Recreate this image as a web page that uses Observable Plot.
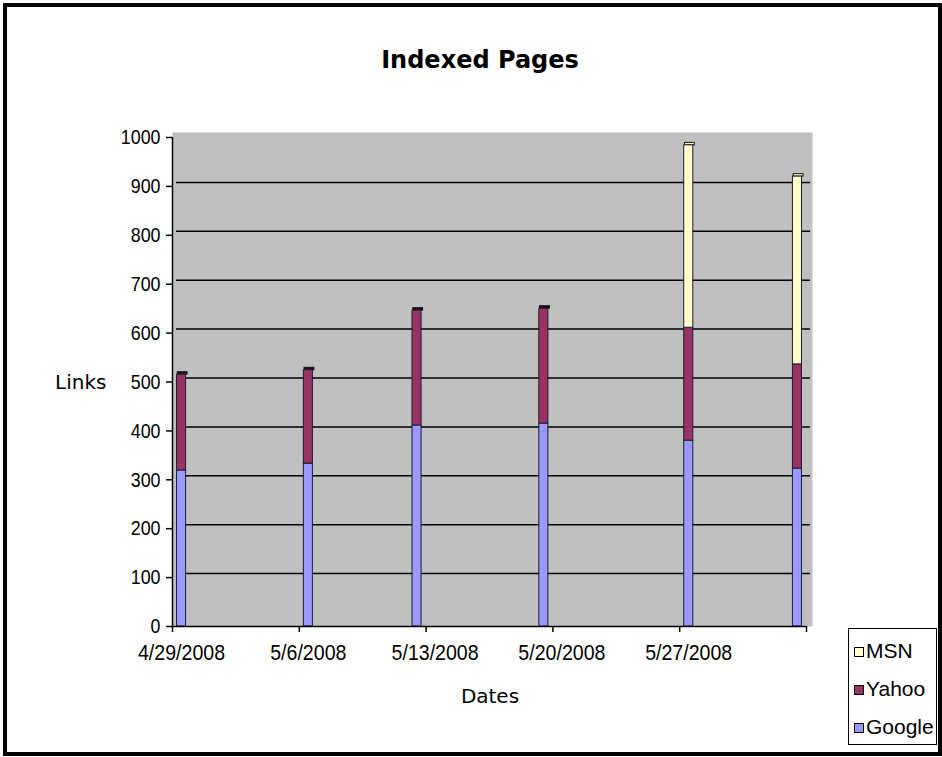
<!DOCTYPE html>
<html>
<head>
<meta charset="utf-8">
<script src="https://cdn.jsdelivr.net/npm/d3@7"></script>
<script src="https://cdn.jsdelivr.net/npm/@observablehq/plot@0.6"></script>
<style>
  body { margin: 0; background: #fff; }
  #wrap { position: relative; width: 942px; height: 757px; overflow: hidden; background: #fff; }
  #chart { position: absolute; left: 0; top: 0; }
  #border { position: absolute; left: 3px; top: 3px; width: 931px; height: 745px; border: 4px solid #000; pointer-events: none; }
  .lbl { position: absolute; white-space: nowrap; color: #000; }
  #title { left: 380px; width: 200px; top: 48px; text-align: center; font: bold 24px/24px "DejaVu Sans", Verdana, sans-serif; }
  #ylabel { left: 55px; top: 372px; font: 20px/20px "DejaVu Sans", Verdana, sans-serif; }
  #xlabel { left: 440px; width: 100px; top: 686px; text-align: center; font: 20px/20px "DejaVu Sans", Verdana, sans-serif; }
  #legend { position: absolute; left: 848px; top: 628px; width: 87px; height: 115px; border: 1.5px solid #000; background: #fff; }
  .item { position: absolute; left: 5px; height: 22px; font: 21px/22px "Liberation Sans", Arial, sans-serif; color: #000; }
  .sw { display: inline-block; width: 8px; height: 8px; border: 1px solid #000; margin-right: 2px; vertical-align: 1px; }
</style>
</head>
<body>
<div id="wrap">
  <div id="chart"></div>
  <div id="title" class="lbl">Indexed Pages</div>
  <div id="ylabel" class="lbl">Links</div>
  <div id="xlabel" class="lbl">Dates</div>
  <div id="legend"></div>
  <div id="border"></div>
</div>
<script>
// ---- data ----
const dates = ["2008-04-29", "2008-05-06", "2008-05-12", "2008-05-19", "2008-05-27", "2008-06-02"];
const google = [319, 333, 411, 415, 380, 323];
const yahoo  = [196, 191, 235, 235, 231, 213];
const msn    = [0, 0, 0, 0, 373, 384];
const engines = ["Google", "Yahoo", "MSN"];
const engineColors = ["#9999FF", "#993366", "#FFFFCC"];
const yTicks = [0, 100, 200, 300, 400, 500, 600, 700, 800, 900, 1000];
const xTickDates = ["2008-04-29", "2008-05-06", "2008-05-13", "2008-05-20", "2008-05-27", "2008-06-03"];
const xTickLabels = ["4/29/2008", "5/6/2008", "5/13/2008", "5/20/2008", "5/27/2008", ""];
const xDomain = ["2008-04-29", "2008-06-03"];

// ---- build tables ----
const parse = d3.utcParse("%Y-%m-%d");
const series = [google, yahoo, msn];
const rows = [];
const caps = [];
dates.forEach((ds, i) => {
  const date = parse(ds);
  let cum = 0;
  let top = null;
  engines.forEach((e, k) => {
    const v = series[k][i];
    if (v > 0) {
      rows.push({
        engine: e,
        x1: d3.utcHour.offset(date, 6),
        x2: d3.utcHour.offset(date, 18),
        y1: cum,
        y2: cum + v
      });
      top = e;
    }
    cum += v;
  });
  caps.push({
    x1: d3.utcHour.offset(date, 7),
    x2: d3.utcHour.offset(date, 20),
    y1: cum,
    y2: cum + 5,
    fill: top === "MSN" ? "#FFFFCC" : "#1a1010"
  });
});
const tickDates = xTickDates.map(parse);
const fmt = d => {
  const i = tickDates.findIndex(t => +t === +d);
  return i >= 0 ? xTickLabels[i] : "";
};

const chart = Plot.plot({
  width: 942,
  height: 757,
  marginLeft: 172,
  marginRight: 136,
  marginTop: 137,
  marginBottom: 131,
  x: { type: "utc", domain: xDomain.map(parse) },
  y: { domain: [yTicks[0], yTicks[yTicks.length - 1]] },
  color: { domain: engines, range: engineColors },
  style: { background: "transparent", color: "#000", fontFamily: '"Liberation Sans", Arial, sans-serif' },
  marks: [
    Plot.frame({ fill: "#c0c0c0", insetTop: -5, insetRight: -6 }),
    Plot.ruleY(yTicks.slice(1, -1), { stroke: "#000", strokeWidth: 1.5, dx: 4, dy: -4 }),
    Plot.rect(caps, { x1: "x1", x2: "x2", y1: "y1", y2: "y2", fill: "fill", stroke: "#111", strokeWidth: 1 }),
    Plot.rect(rows, { x1: "x1", x2: "x2", y1: "y1", y2: "y2", fill: "engine", stroke: "#1c1c30", strokeWidth: 1 }),
    Plot.ruleX([parse(xDomain[0])], { y1: yTicks[0], y2: yTicks[yTicks.length - 1], stroke: "#000", strokeWidth: 1.5 }),
    Plot.ruleY([yTicks[0]], { stroke: "#000", strokeWidth: 1.5 }),
    Plot.axisY({ ticks: yTicks, tickSize: 6, tickPadding: 6, fontSize: 21, label: null, tickFormat: d => String(d), strokeWidth: 1.5 }),
    Plot.axisX({ ticks: tickDates, tickSize: 6, tickFormat: () => "", label: null, strokeWidth: 1.5 }),
    Plot.axisX({ ticks: tickDates, tickSize: 0, tickPadding: 18, dx: 9, fontSize: 22, tickFormat: fmt, label: null })
  ]
});
document.getElementById("chart").appendChild(chart);

// condensed look of the tick labels (Arial Narrow style)
function condense(sel, k) {
  d3.select(chart).selectAll(sel).each(function () {
    const w = this.getComputedTextLength();
    if (w > 0) {
      this.setAttribute("textLength", (w * k).toFixed(1));
      this.setAttribute("lengthAdjust", "spacingAndGlyphs");
    }
  });
}
condense('g[aria-label="y-axis tick label"] text', 0.85);
condense('g[aria-label="x-axis tick label"] text', 0.89);

// ---- legend ----
const legend = document.getElementById("legend");
const order = [2, 1, 0];
order.forEach((k, j) => {
  const div = document.createElement("div");
  div.className = "item";
  div.style.top = (11 + j * 38) + "px";
  const sw = document.createElement("span");
  sw.className = "sw";
  sw.style.background = engineColors[k];
  div.appendChild(sw);
  div.appendChild(document.createTextNode(engines[k]));
  legend.appendChild(div);
});
</script>
</body>
</html>
